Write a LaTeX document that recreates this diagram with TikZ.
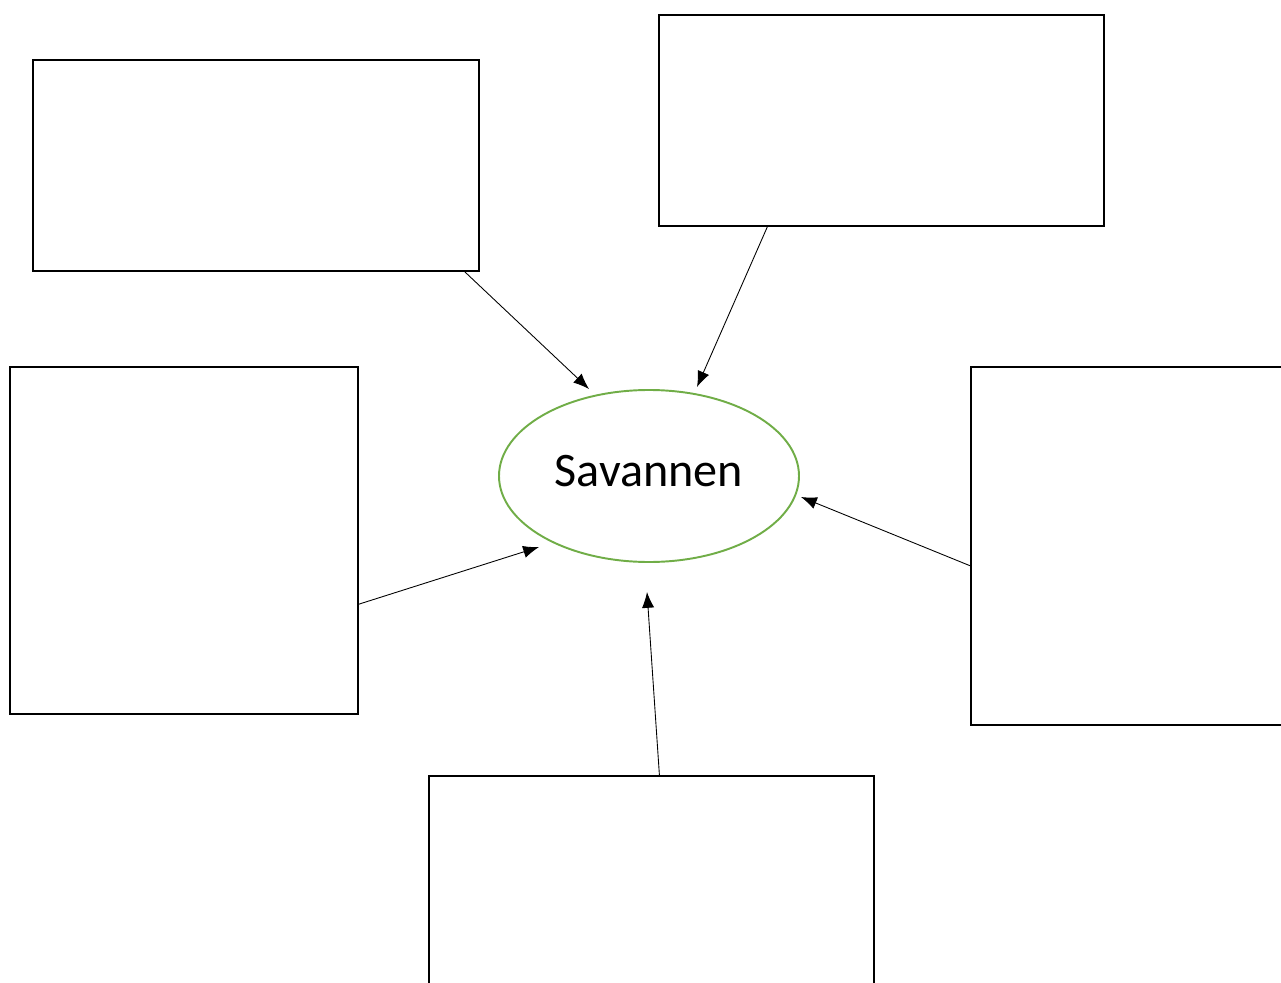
\documentclass[tikz,border=0pt]{standalone}
\usepackage{fontspec}
\setmainfont{Carlito}
\usetikzlibrary{shapes.geometric, arrows.meta}
\definecolor{savgreen}{RGB}{112,173,71}

\tikzset{
  box/.style={draw, line width=1.1pt, rectangle, anchor=north west},
  arr/.style={-{Latex[length=9pt,width=7pt]}, line width=0.5pt}
}

\begin{document}
\begin{tikzpicture}[x=0.02cm, y=-0.02cm]
\useasboundingbox (0,0) rectangle (1281,983);
\clip (0,0) rectangle (1281,983);
\node[box, minimum width=446*0.02cm, minimum height=211*0.02cm] (tl) at (32,59) {};
\node[box, minimum width=445*0.02cm, minimum height=211*0.02cm] (tr) at (658,14) {};
\node[box, minimum width=348*0.02cm, minimum height=347*0.02cm] (lf) at (9,366) {};
\node[box, minimum width=320*0.02cm, minimum height=358*0.02cm] (rt) at (970,366) {};
\node[box, minimum width=445*0.02cm, minimum height=225*0.02cm] (bt) at (428,775) {};
\node[draw=savgreen, line width=1.1pt, ellipse, minimum width=300*0.02cm,
  minimum height=172*0.02cm, text depth=5.6pt,
  font=\fontsize{27.4}{32}\selectfont] (sav) at (649,476) {Savannen};
% arrow tips
\coordinate (tlEnd) at (589,389);
\coordinate (trEnd) at (697,387);
\coordinate (lfEnd) at (539,547);
\coordinate (rtEnd) at (801,497);
\coordinate (btEnd) at (647,592);
\draw[arr] (tl.-27.7) -- (tlEnd);
\draw[arr] (tr.-137.1) -- (trEnd);
\draw[arr] (lf.-20.05) -- (lfEnd);
\draw[arr] (rt.-173.6) -- (rtEnd);
\draw[arr] (bt.86.9) -- (btEnd);
\end{tikzpicture}
\end{document}
